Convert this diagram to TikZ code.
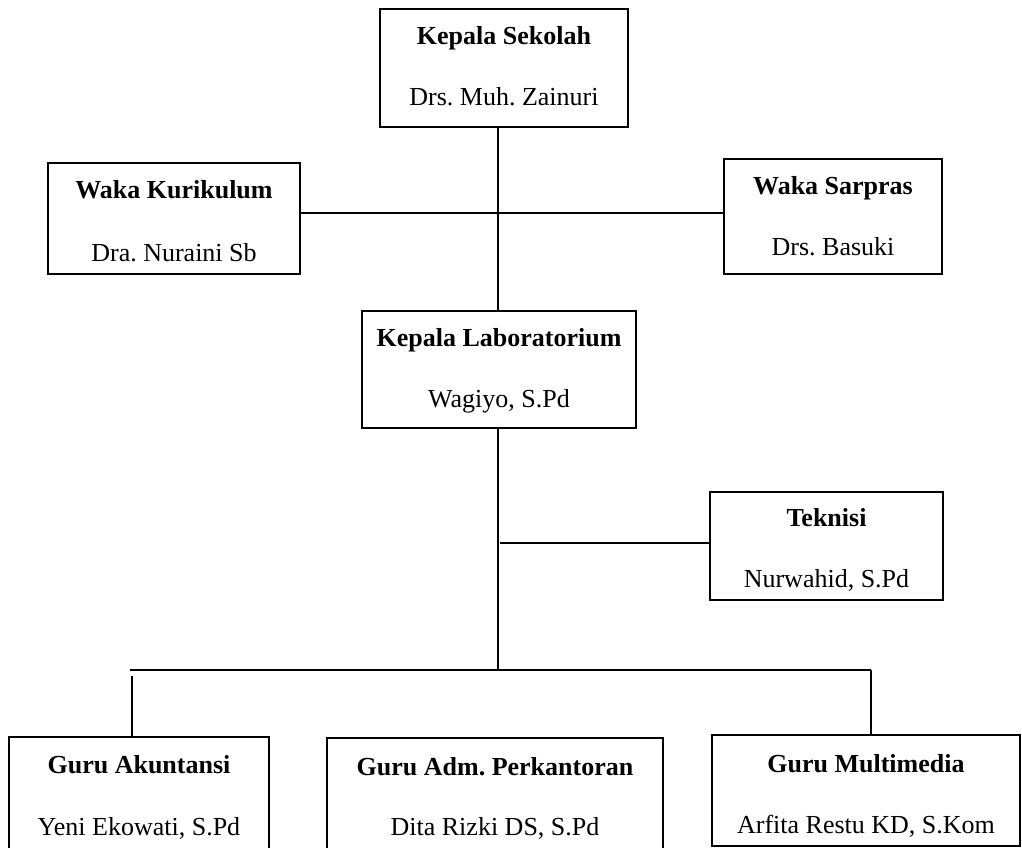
\documentclass[tikz,border=0pt]{standalone}
\usepackage{fontspec}
\setmainfont{Liberation Serif}
\frenchspacing
\begin{document}
\begin{tikzpicture}[x=0.75pt,y=-0.75pt,
  box/.style={draw, line width=1.6pt, rectangle, inner sep=0pt},
  ttl/.style={anchor=base, font=\fontsize{19.5}{23}\selectfont\bfseries, inner sep=0pt},
  nm/.style={anchor=base, font=\fontsize{19.5}{23}\selectfont, inner sep=0pt},
  conn/.style={line width=0.8pt}]
\useasboundingbox (0,0) rectangle (1022,848);
\clip (0,0) rectangle (1022,848);
% boxes
\node[box, minimum width=186pt, minimum height=88.5pt] (ks) at (504,68) {};
\node[box, minimum width=189pt, minimum height=83.25pt] (wk) at (174,218.5) {};
\node[box, minimum width=163.5pt, minimum height=86.25pt] (ws) at (833,216.5) {};
\node[box, minimum width=205.5pt, minimum height=87.75pt] (kl) at (499,369.5) {};
\node[box, minimum width=174.75pt, minimum height=81pt] (tk) at (826.5,546) {};
\node[box, minimum width=195pt, minimum height=88.5pt] (ga) at (139,796) {};
\node[box, minimum width=252pt, minimum height=88.5pt] (gb) at (495,797) {};
\node[box, minimum width=231pt, minimum height=83.25pt] (gc) at (866,790.5) {};
% texts
\node[ttl] (ks1) at (504,45) {Kepala Sekolah};
\node[nm]  (ks2) at (504,106) {Drs. Muh. Zainuri};
\node[ttl] (wk1) at (174,199) {Waka Kurikulum};
\node[nm]  (wk2) at (174,262) {Dra. Nuraini Sb};
\node[ttl] (ws1) at (833,195) {Waka Sarpras};
\node[nm]  (ws2) at (833,256) {Drs. Basuki};
\node[ttl] (kl1) at (499,347) {Kepala Laboratorium};
\node[nm]  (kl2) at (499,408) {Wagiyo, S.Pd};
\node[ttl] (tk1) at (826.5,527) {Teknisi};
\node[nm]  (tk2) at (826.5,588) {Nurwahid, S.Pd};
\node[ttl] (ga1) at (139,773) {Guru Akuntansi};
\node[nm]  (ga2) at (139,835) {Yeni Ekowati, S.Pd};
\node[ttl] (gb1) at (495,775) {Guru Adm. Perkantoran};
\node[nm]  (gb2) at (495,835) {Dita Rizki DS, S.Pd};
\node[ttl] (gc1) at (866,772) {Guru Multimedia};
\node[nm]  (gc2) at (866,833) {Arfita Restu KD, S.Kom};
% connector points
\coordinate (j1) at (498,213);
\coordinate (j2) at (500,543);
\coordinate (j3) at (498,670);
\coordinate (bl) at (130,670);
\coordinate (br) at (871,670);
\coordinate (dl) at (132,676);
% connectors
\draw[conn] (ks.south -| j1) -- (kl.north -| j1);
\draw[conn] (wk.east |- j1) -- (ws.west |- j1);
\draw[conn] (kl.south -| j1) -- (j3);
\draw[conn] (j2) -- (tk.west |- j2);
\draw[conn] (bl) -- (br);
\draw[conn] (dl) -- (ga.north -| dl);
\draw[conn] (br) -- (gc.north -| br);
\end{tikzpicture}
\end{document}
